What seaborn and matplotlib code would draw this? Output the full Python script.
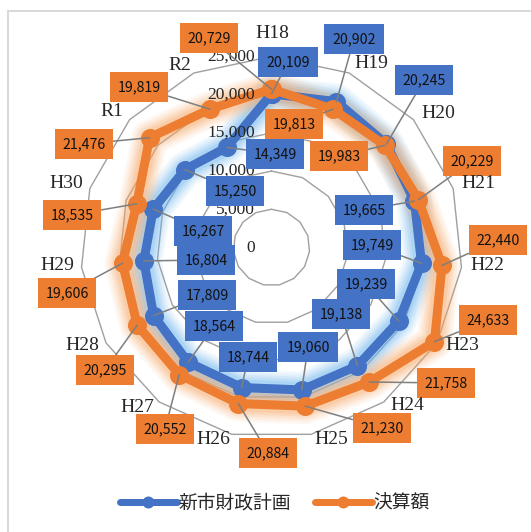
import numpy as np
import pandas as pd
import matplotlib
matplotlib.use("Agg")
import matplotlib.pyplot as plt
from matplotlib.lines import Line2D
from matplotlib.font_manager import FontProperties
import seaborn as sns

# ---- data ----
categories = ["H18", "H19", "H20", "H21", "H22", "H23", "H24", "H25",
              "H26", "H27", "H28", "H29", "H30", "R1", "R2"]
plan = [20109, 20902, 20245, 19665, 19749, 19239, 19138, 19060,
        18744, 18564, 17809, 16804, 16267, 15250, 14349]
actual = [20729, 19813, 19983, 20229, 22440, 24633, 21758, 21230,
          20884, 20552, 20295, 19606, 18535, 21476, 19819]
series_names = ["新市財政計画", "決算額"]
radial_ticks = [0, 5000, 10000, 15000, 20000, 25000]
radial_tick_labels = ["0", "5,000", "10,000", "15,000", "20,000", "25,000"]

# ---- layout (figure pixels, measured from top-left) ----
W, H = 531, 532
CX, CY, R = 271.5, 247.5, 191.0
cat_label_px = [(272, 33), (371, 64), (438, 113), (478, 184), (487, 265),
                (462, 345), (407, 405), (331, 440), (213, 440), (137, 407),
                (82, 345), (57, 265), (66, 184), (112, 112), (180, 65)]
plan_label_px = [(288, 62), (354, 39), (424, 80), (364, 210), (372, 245),
                 (366, 284), (341, 314), (308, 347), (248, 357), (214, 326),
                 (207, 295), (206, 260), (203, 231), (235, 191), (275, 154)]
actual_label_px = [(209, 38), (294, 124), (339, 156), (472, 161), (498, 240),
                   (488, 320), (446, 383), (382, 428), (268, 453), (165, 429),
                   (105, 370), (67, 293), (72, 215), (84, 144), (139, 87)]

BLUE = "#4472C4"
ORANGE = "#ED7D31"
BLUE_GLOW = "#6DB6F2"
ORANGE_GLOW = "#F7A765"
GRID = "#A0A0A0"
PX = 0.72  # points per pixel at 100 dpi

sns.set_theme(style="white")
plt.rcParams["font.family"] = ["Noto Sans CJK JP", "DejaVu Sans"]

fig = plt.figure(figsize=(W / 100, H / 100), dpi=100)
ax = fig.add_axes([(CX - R) / W, (H - CY - R) / H, 2 * R / W, 2 * R / H],
                  projection="polar")
ax.set_theta_offset(np.pi / 2)
ax.set_theta_direction(-1)

n = len(categories)
theta = np.arange(n) * 2 * np.pi / n
theta_c = np.append(theta, 2 * np.pi)

# polygonal grid rings
for v in radial_ticks[1:]:
    ax.plot(theta_c, [v] * (n + 1), color=GRID, lw=1.4 * PX * 1.0, zorder=1,
            clip_on=False)

# soft glow behind each series
def glow(values, color):
    vals = np.append(values, values[0])
    for w, a in [(36, 0.09), (31, 0.11), (26, 0.14), (21, 0.18), (16, 0.22)]:
        ax.plot(theta_c, vals, color=color, lw=w * PX, alpha=a,
                solid_joinstyle="round", solid_capstyle="round",
                zorder=2, clip_on=False)

glow(plan, BLUE_GLOW)
glow(actual, ORANGE_GLOW)

for values, color, z in [(plan, BLUE, 3), (actual, ORANGE, 4)]:
    df = pd.DataFrame({"theta": theta_c, "value": np.append(values, values[0])})
    sns.lineplot(data=df, x="theta", y="value", sort=False, estimator=None,
                 ax=ax, color=color, lw=9 * PX, marker="o",
                 markersize=19 * PX, markeredgewidth=0, zorder=z,
                 clip_on=False, legend=False)

ax.set_ylim(0, 25000)
ax.set_axis_off()

# radial value labels, left of the vertical axis
for v, lab in zip(radial_ticks, radial_tick_labels):
    ax.annotate(lab, xy=(0, v), xytext=(-16.5 * PX, 0), textcoords="offset points",
                ha="right", va="center", fontsize=12.5,
                family="Liberation Serif", color="#262626", zorder=5,
                annotation_clip=False)

# category labels
for lab, (x, y) in zip(categories, cat_label_px):
    fig.text(x / W, 1 - y / H, lab, ha="center", va="center", fontsize=14,
             family="Liberation Serif", color="#262626")

# data labels with leader lines
def data_labels(values, positions, color):
    for i, (v, (x, y)) in enumerate(zip(values, positions)):
        ax.annotate(f"{v:,}", xy=(theta[i], v), xycoords="data",
                    xytext=(x, H - y), textcoords="figure pixels",
                    ha="center", va="center", fontsize=10.2, color="#111111",
                    bbox=dict(boxstyle="square,pad=0.55", fc=color, ec="none"),
                    arrowprops=dict(arrowstyle="-", color="#7F7F7F", lw=1.4 * PX * 1.1,
                                    shrinkA=0, shrinkB=0),
                    annotation_clip=False, zorder=6)

data_labels(plan, plan_label_px, BLUE)
data_labels(actual, actual_label_px, ORANGE)

# legend
handles = [Line2D([0], [0], color=BLUE, lw=7 * PX, marker="o", markersize=12 * PX,
                  markeredgewidth=0),
           Line2D([0], [0], color=ORANGE, lw=7 * PX, marker="o", markersize=12 * PX,
                  markeredgewidth=0)]
fig.legend(handles, series_names, loc="center", bbox_to_anchor=(275 / W, 1 - 503 / H),
           ncol=2, frameon=False, handlelength=3.0, handletextpad=0.1,
           columnspacing=1.3, prop=FontProperties(family="Noto Sans CJK JP", size=13.5))

# chart frame
fig.add_artist(Line2D([8 / W, 8 / W], [1 - 11 / H, 0], color="#D9D9D9", lw=2 * PX))
fig.add_artist(Line2D([8 / W, 1], [1 - 11 / H, 1 - 11 / H], color="#D9D9D9", lw=2 * PX))

fig.savefig("out.png", dpi=100, facecolor="white")
